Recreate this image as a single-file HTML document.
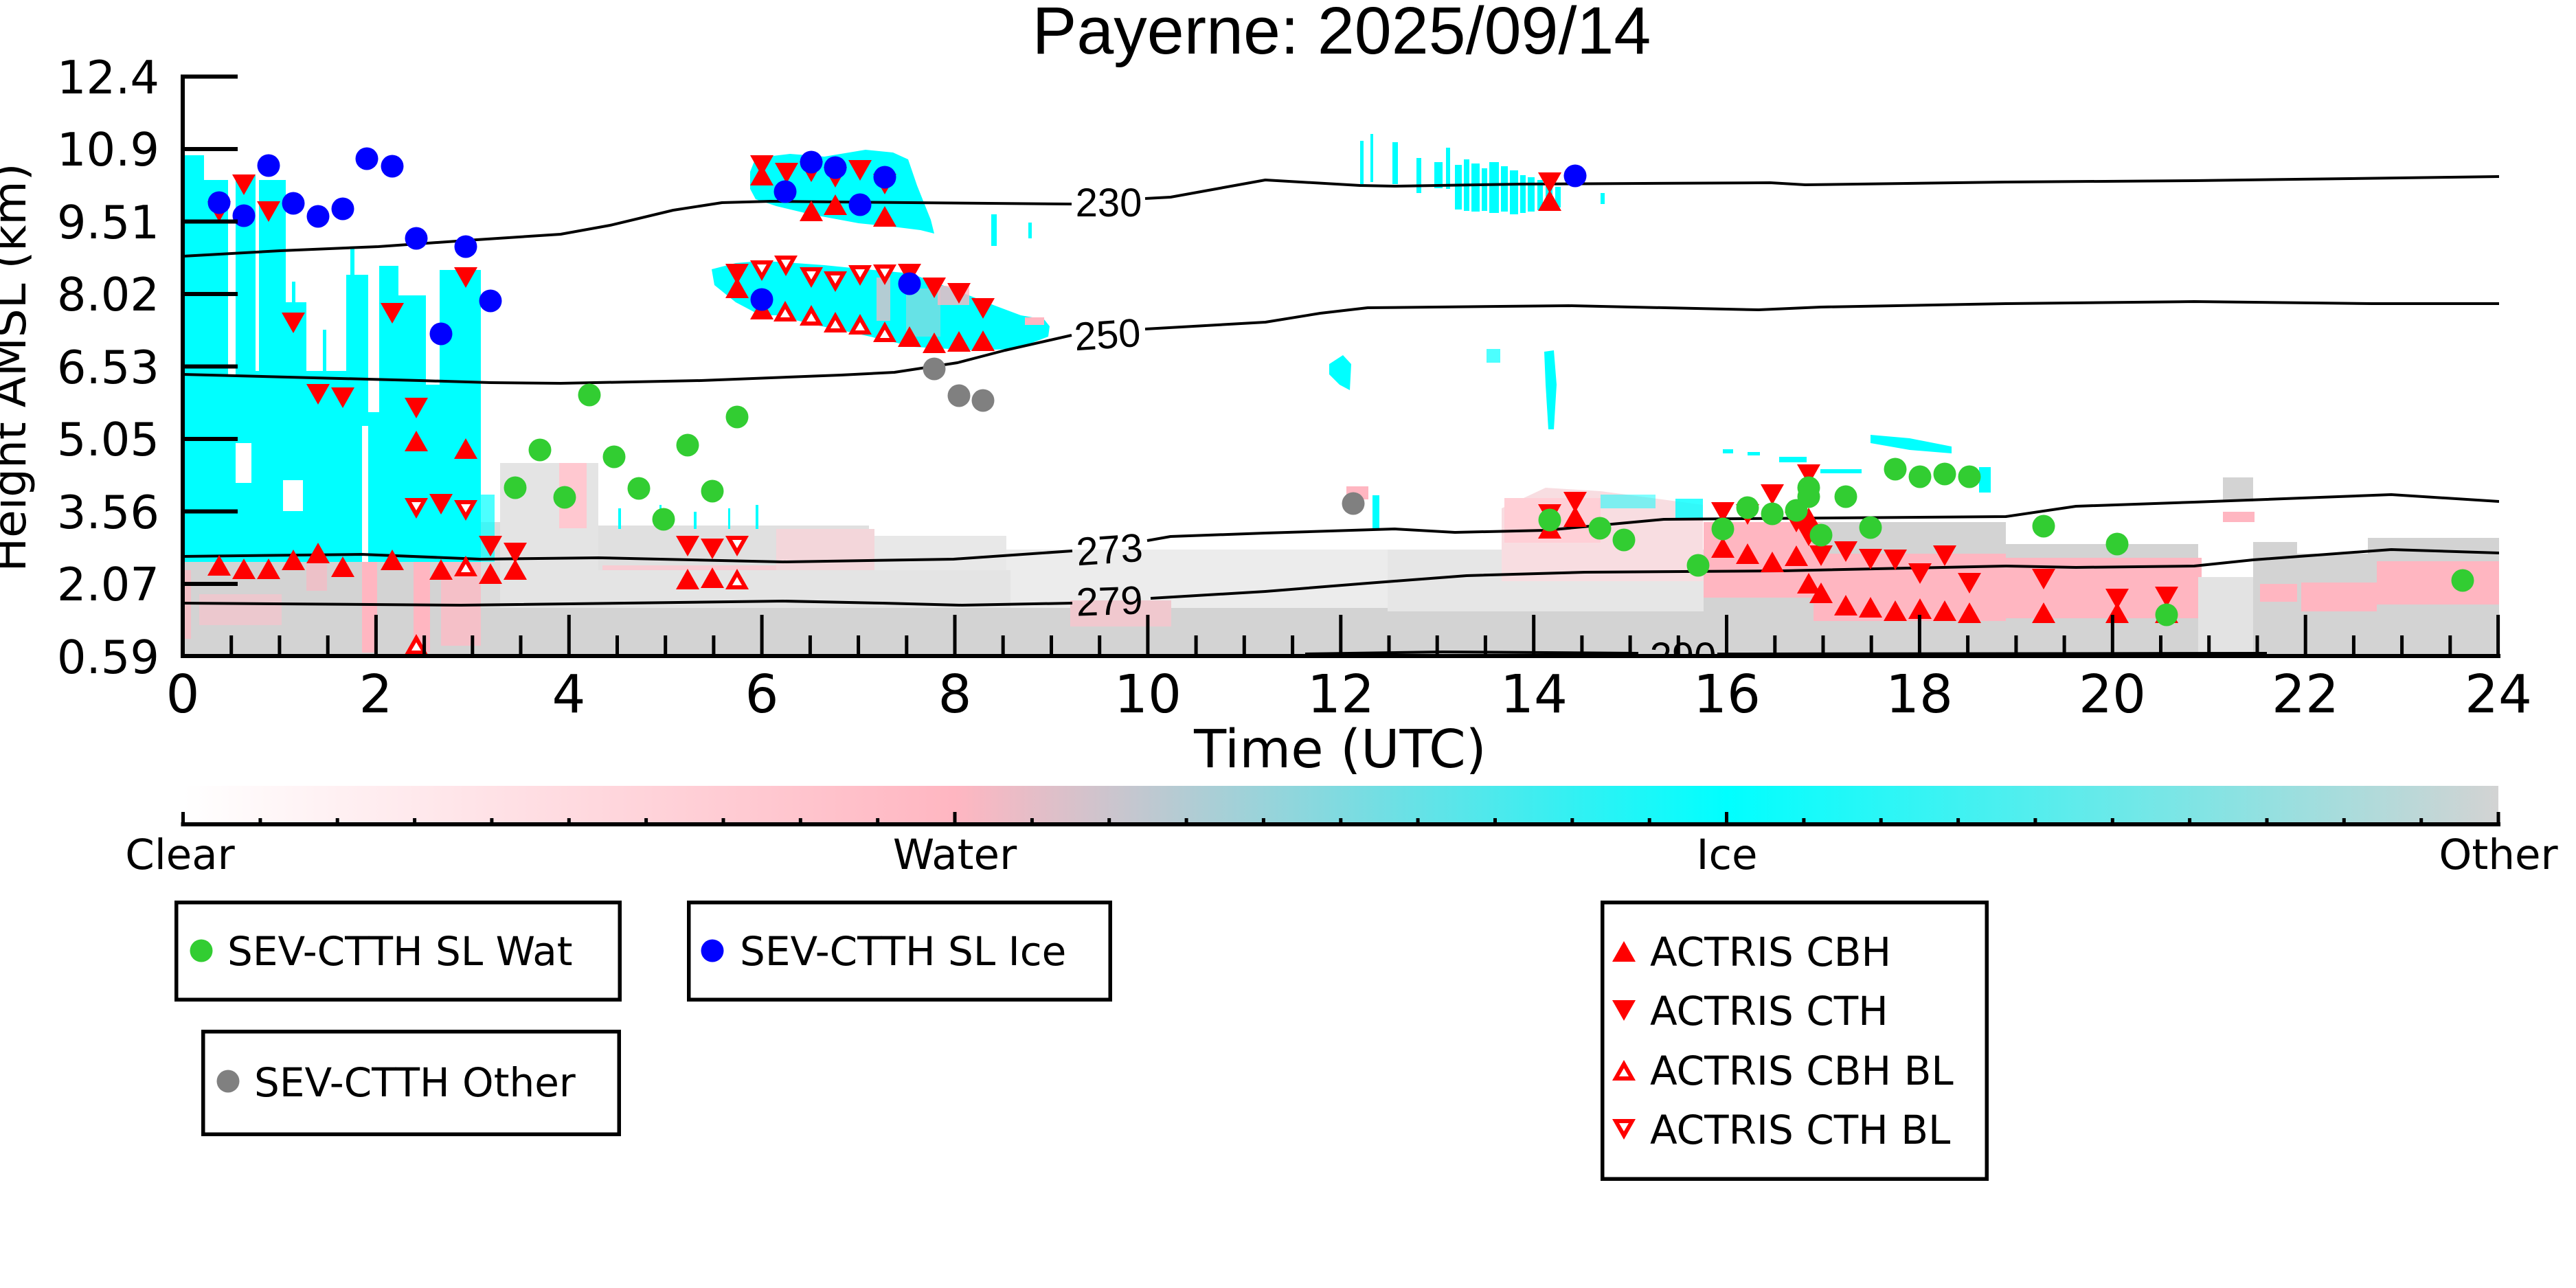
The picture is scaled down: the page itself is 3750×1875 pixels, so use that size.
<!DOCTYPE html>
<html><head><meta charset="utf-8"><style>
html,body{margin:0;padding:0;background:#fff;}
svg{display:block;}
.dj{font-family:"DejaVu Sans","Liberation Sans",sans-serif;}
.lb{font-family:"Liberation Sans","DejaVu Sans",sans-serif;}
</style></head><body>
<svg width="3750" height="1875" viewBox="0 0 3750 1875" xmlns="http://www.w3.org/2000/svg">
<defs>
<clipPath id="pc"><rect x="266" y="100" width="3372" height="855"/></clipPath>
<linearGradient id="cb" x1="0" x2="1" y1="0" y2="0">
<stop offset="0" stop-color="#ffffff"/><stop offset="0.3333" stop-color="#ffb6c1"/><stop offset="0.6667" stop-color="#00ffff"/><stop offset="1" stop-color="#d3d3d3"/>
</linearGradient>
<polygon id="up" points="0,-15 -17,15 17,15" fill="#ff0000"/>
<polygon id="dn" points="0,15 -17,-15 17,-15" fill="#ff0000"/>
<g id="upo"><polygon points="0,-15 -17,15 17,15" fill="#ff0000"/><polygon points="0,-3 -7,9 7,9" fill="#fff"/></g>
<g id="dno"><polygon points="0,15 -17,-15 17,-15" fill="#ff0000"/><polygon points="0,3 -7,-9 7,-9" fill="#fff"/></g>
<circle id="cg" r="16.5" fill="#32cd32"/>
<circle id="cbl" r="16.5" fill="#0000ff"/>
<circle id="cgr" r="16.5" fill="#808080"/>
</defs>

<!-- Title -->
<text class="lb" x="1953" y="78" font-size="97" text-anchor="middle">Payerne: 2025/09/14</text>

<g clip-path="url(#pc)">
<!-- bottom gray/pink band -->
<rect x="266" y="815" width="440" height="140" fill="#d3d3d3"/>
<rect x="268" y="830" width="10" height="100" fill="#ffb6c1" opacity="0.7"/>
<rect x="290" y="865" width="120" height="45" fill="#f2c6cd" opacity="0.8"/>
<rect x="446" y="800" width="30" height="60" fill="#ffb6c1" opacity="0.6"/>
<rect x="527" y="777" width="22" height="173" fill="#ffb6c1"/>
<rect x="602" y="789" width="24" height="160" fill="#ffb6c1"/>
<rect x="642" y="800" width="60" height="140" fill="#f5c0c8"/>
<rect x="700" y="760" width="30" height="195" fill="#dcdcdc"/>
<rect x="728" y="674" width="143" height="281" fill="#e4e4e4"/>
<rect x="814" y="674" width="40" height="95" fill="#ffc8d0"/>
<rect x="871" y="765" width="394" height="65" fill="#e0e0e0"/>
<rect x="877" y="823" width="388" height="20" fill="#f8ccd3"/>
<rect x="1265" y="780" width="200" height="100" fill="#e8e8e8"/>
<rect x="1130" y="770" width="143" height="76" fill="#f3d6da"/>
<rect x="1465" y="800" width="565" height="85" fill="#ececec"/>
<rect x="1300" y="835" width="150" height="50" fill="#e2e2e2"/>
<rect x="700" y="885" width="2938" height="70" fill="#d3d3d3"/>
<rect x="871" y="830" width="600" height="55" fill="#e4e4e4"/>
<rect x="1558" y="874" width="147" height="38" fill="#f0c8ce"/>
<rect x="2020" y="800" width="460" height="90" fill="#e6e6e6"/>
<polygon points="2186,740 2250,710 2330,715 2479,735 2479,846 2186,846" fill="#f8dde1"/>
<rect x="2190" y="725" width="140" height="65" fill="#ffcfd6"/>
<rect x="2480" y="760" width="440" height="195" fill="#d3d3d3"/>
<rect x="2480" y="760" width="170" height="110" fill="#ffb6c1"/>
<rect x="2640" y="806" width="280" height="98" fill="#ffb6c1"/>
<rect x="2920" y="792" width="280" height="163" fill="#d3d3d3"/>
<rect x="2920" y="812" width="285" height="88" fill="#ffb6c1"/>
<rect x="3200" y="840" width="90" height="115" fill="#e3e3e3"/>
<rect x="3280" y="789" width="64" height="166" fill="#d3d3d3"/>
<rect x="3344" y="806" width="103" height="149" fill="#d3d3d3"/>
<rect x="3447" y="783" width="191" height="172" fill="#d3d3d3"/>
<rect x="3290" y="850" width="54" height="26" fill="#ffb6c1"/>
<rect x="3350" y="848" width="110" height="42" fill="#ffb6c1"/>
<rect x="3460" y="817" width="178" height="63" fill="#ffb6c1"/>
<rect x="3236" y="695" width="44" height="35" fill="#d3d3d3"/>
<rect x="3236" y="745" width="46" height="15" fill="#ffb6c1"/>
<rect x="1960" y="708" width="32" height="19" fill="#ffb6c1"/>

<!-- left cyan mass -->
<polygon fill="#00ffff" points="268,818 268,226 297,226 297,262 332,262 332,330 343,330 343,255 372,255 372,300 377,300 377,262 416,262 416,440 446,440 446,540 504,540 504,400 536,400 536,600 552,600 552,387 580,387 580,430 620,430 620,560 640,560 640,393 700,393 700,818"/>
<rect x="332" y="330" width="11" height="215" fill="#fff"/>
<rect x="372" y="300" width="5" height="240" fill="#fff"/>
<rect x="527" y="620" width="9" height="198" fill="#fff"/>
<rect x="343" y="645" width="23" height="58" fill="#fff"/>
<rect x="412" y="699" width="29" height="45" fill="#fff"/>
<rect x="510" y="360" width="6" height="40" fill="#00ffff"/>
<rect x="425" y="410" width="5" height="30" fill="#00ffff"/>
<rect x="470" y="480" width="5" height="60" fill="#00ffff"/>
<rect x="700" y="720" width="20" height="98" fill="#00ffff" opacity="0.7"/>

<!-- top cluster 6-7.5h -->
<polygon fill="#00ffff" points="1092,250 1100,230 1150,224 1200,228 1260,218 1300,222 1322,232 1335,270 1355,320 1360,340 1340,335 1300,330 1250,325 1180,312 1130,300 1100,290 1092,275"/>
<rect x="1443" y="312" width="8" height="46" fill="#00ffff"/>
<rect x="1497" y="324" width="5" height="23" fill="#00ffff"/>
<!-- middle cluster 6-9h -->
<polygon fill="#00ffff" points="1036,392 1071,383 1107,380 1130,381 1200,386 1260,392 1325,398 1388,421 1446,444 1486,459 1520,465 1528,475 1526,490 1500,500 1474,508 1417,510 1331,505 1245,485 1187,473 1130,459 1107,459 1071,440 1040,415"/>
<rect x="1276" y="404" width="20" height="63" fill="#ffb6c1" opacity="0.7"/>
<rect x="1319" y="420" width="50" height="70" fill="#ffb6c1" opacity="0.4"/>
<rect x="1365" y="416" width="46" height="28" fill="#ffb6c1" opacity="0.8"/>
<rect x="1492" y="462" width="28" height="11" fill="#ffb6c1"/>

<!-- upper right cluster (streaky) -->
<g fill="#00ffff">
<rect x="1980" y="205" width="5" height="63"/>
<rect x="1995" y="195" width="4" height="70"/>
<rect x="2027" y="207" width="8" height="61"/>
<rect x="2062" y="230" width="7" height="51"/>
<rect x="2088" y="236" width="12" height="38"/>
<rect x="2105" y="215" width="6" height="60"/>
<rect x="2118" y="240" width="10" height="65"/>
<rect x="2131" y="232" width="8" height="75"/>
<rect x="2142" y="238" width="12" height="70"/>
<rect x="2157" y="245" width="8" height="62"/>
<rect x="2168" y="236" width="14" height="74"/>
<rect x="2185" y="242" width="10" height="66"/>
<rect x="2198" y="248" width="12" height="64"/>
<rect x="2213" y="255" width="8" height="55"/>
<rect x="2224" y="258" width="10" height="50"/>
<rect x="2238" y="262" width="8" height="44"/>
<rect x="2250" y="266" width="10" height="40"/>
<rect x="2264" y="272" width="8" height="30"/>
<rect x="2330" y="281" width="6" height="16"/>
</g>
<polygon fill="#00ffff" points="1935,530 1955,517 1967,530 1965,568 1950,560 1935,545"/>
<polygon fill="#00ffff" points="2248,512 2262,510 2266,560 2262,625 2254,625 2250,560"/>
<rect x="2164" y="508" width="20" height="20" fill="#00ffff" opacity="0.7"/>
<polygon fill="#00ffff" points="2723,633 2780,638 2841,650 2841,660 2780,655 2723,645"/>
<rect x="2508" y="654" width="15" height="6" fill="#00ffff"/>
<rect x="2544" y="658" width="18" height="5" fill="#00ffff"/>
<rect x="2590" y="665" width="40" height="8" fill="#00ffff"/>
<rect x="2650" y="683" width="60" height="6" fill="#00ffff"/>
<rect x="2881" y="680" width="17" height="37" fill="#00ffff"/>
<rect x="2439" y="726" width="40" height="28" fill="#00ffff" opacity="0.8"/>
<rect x="2330" y="720" width="80" height="20" fill="#00ffff" opacity="0.5"/>
<rect x="1998" y="721" width="10" height="50" fill="#00ffff"/>
<rect x="900" y="740" width="4" height="30" fill="#00ffff"/>
<rect x="960" y="735" width="3" height="35" fill="#00ffff"/>
<rect x="1010" y="745" width="4" height="25" fill="#00ffff"/>
<rect x="1060" y="740" width="3" height="30" fill="#00ffff"/>
<rect x="1100" y="735" width="4" height="35" fill="#00ffff"/>

<!-- contour lines -->
<g fill="none" stroke="#000" stroke-width="4" stroke-linejoin="round">
<polyline points="266,373 408,365 551,359 694,349 816,341 888,328 980,306 1051,295 1122,293 1327,295 1560,297"/>
<polyline points="1667,289 1704,287 1842,262 1980,270 2030,271 2215,268 2577,266 2628,269 2920,265 3194,263 3567,258 3638,257"/>
<polyline points="266,545 612,554 714,557 816,558 1020,554 1224,546 1302,542 1394,528 1463,510 1560,488"/>
<polyline points="1667,479 1842,469 1922,456 1991,448 2284,445 2560,451 2651,447 2920,442 3194,439 3453,442 3638,442"/>
<polyline points="266,810 527,807 699,814 871,812 1140,818 1388,814 1561,802"/>
<polyline points="1670,787 1704,781 1842,776 2030,770 2118,775 2250,772 2422,756 2920,752 3022,737 3194,731 3481,720 3638,730"/>
<polyline points="266,878 671,881 1140,875 1285,878 1400,881 1561,878"/>
<polyline points="1675,871 1842,861 1991,849 2030,846 2135,838 2307,833 2594,831 2920,824 3022,826 3194,824 3280,815 3481,800 3638,805"/>
<polyline points="1900,952 2100,949 2385,951"/>
<polyline points="2500,952 3300,951"/>
</g>
<g class="lb" font-size="58" text-anchor="middle">
<text x="1614" y="315">230</text>
<text x="1612" y="507" transform="rotate(-4 1612 486)">250</text>
<text x="1615" y="820" transform="rotate(-4 1615 798)">273</text>
<text x="1615" y="895" transform="rotate(-2 1615 874)">279</text>
<text x="2450" y="976">290</text>
</g>

<!-- ACTRIS markers -->
<g>
<use href="#dn" x="319" y="308"/><use href="#dn" x="355" y="269"/><use href="#dn" x="391" y="308"/><use href="#dn" x="427" y="470"/>
<use href="#dn" x="463" y="574"/><use href="#dn" x="499" y="579"/><use href="#dn" x="571" y="456"/><use href="#dn" x="606" y="594"/>
<use href="#dn" x="642" y="734"/><use href="#dn" x="678" y="404"/><use href="#dn" x="714" y="795"/><use href="#dn" x="750" y="805"/>
<use href="#dn" x="1001" y="795"/><use href="#dn" x="1037" y="799"/><use href="#dn" x="1073" y="399"/><use href="#dn" x="1109" y="241"/>
<use href="#dn" x="1145" y="252"/><use href="#dn" x="1181" y="250"/><use href="#dn" x="1216" y="258"/><use href="#dn" x="1252" y="248"/>
<use href="#dn" x="1288" y="268"/><use href="#dn" x="1324" y="399"/><use href="#dn" x="1360" y="419"/><use href="#dn" x="1396" y="427"/>
<use href="#dn" x="1431" y="449"/><use href="#dn" x="2256" y="266"/><use href="#dn" x="2256" y="749"/><use href="#dn" x="2293" y="731"/>
<use href="#dn" x="2508" y="746"/><use href="#dn" x="2544" y="749"/><use href="#dn" x="2580" y="720"/><use href="#dn" x="2615" y="760"/>
<use href="#dn" x="2633" y="691"/><use href="#dn" x="2633" y="780"/><use href="#dn" x="2651" y="809"/><use href="#dn" x="2687" y="803"/>
<use href="#dn" x="2723" y="814"/><use href="#dn" x="2759" y="815"/><use href="#dn" x="2795" y="835"/><use href="#dn" x="2831" y="809"/>
<use href="#dn" x="2867" y="849"/><use href="#dn" x="2975" y="843"/><use href="#dn" x="3082" y="872"/><use href="#dn" x="3154" y="869"/>

<use href="#up" x="319" y="823"/><use href="#up" x="355" y="828"/><use href="#up" x="391" y="828"/><use href="#up" x="427" y="815"/>
<use href="#up" x="463" y="805"/><use href="#up" x="499" y="825"/><use href="#up" x="571" y="815"/><use href="#up" x="606" y="642"/>
<use href="#up" x="642" y="829"/><use href="#up" x="678" y="653"/><use href="#up" x="714" y="835"/><use href="#up" x="750" y="829"/>
<use href="#up" x="1001" y="843"/><use href="#up" x="1037" y="841"/><use href="#up" x="1073" y="419"/><use href="#up" x="1109" y="255"/>
<use href="#up" x="1109" y="450"/><use href="#up" x="1181" y="307"/><use href="#up" x="1216" y="298"/><use href="#up" x="1288" y="315"/>
<use href="#up" x="1324" y="490"/><use href="#up" x="1360" y="499"/><use href="#up" x="1396" y="497"/><use href="#up" x="1431" y="496"/>
<use href="#up" x="2256" y="292"/><use href="#up" x="2256" y="769"/><use href="#up" x="2293" y="752"/><use href="#up" x="2508" y="797"/>
<use href="#up" x="2544" y="806"/><use href="#up" x="2580" y="818"/><use href="#up" x="2615" y="809"/><use href="#up" x="2633" y="754"/>
<use href="#up" x="2633" y="849"/><use href="#up" x="2651" y="863"/><use href="#up" x="2687" y="881"/><use href="#up" x="2723" y="884"/>
<use href="#up" x="2759" y="889"/><use href="#up" x="2795" y="886"/><use href="#up" x="2831" y="889"/><use href="#up" x="2867" y="892"/>
<use href="#up" x="2975" y="892"/><use href="#up" x="3082" y="892"/><use href="#up" x="3154" y="892"/>

<use href="#upo" x="606" y="938"/><use href="#upo" x="678" y="824"/><use href="#upo" x="1073" y="843"/><use href="#upo" x="1143" y="453"/>
<use href="#upo" x="1181" y="459"/><use href="#upo" x="1216" y="469"/><use href="#upo" x="1252" y="472"/><use href="#upo" x="1288" y="483"/>

<use href="#dno" x="606" y="740"/><use href="#dno" x="678" y="743"/><use href="#dno" x="1073" y="795"/><use href="#dno" x="1109" y="394"/>
<use href="#dno" x="1144" y="387"/><use href="#dno" x="1181" y="404"/><use href="#dno" x="1216" y="410"/><use href="#dno" x="1252" y="401"/>
<use href="#dno" x="1288" y="400"/>
</g>

<!-- SEV circles -->
<g>
<use href="#cbl" x="319" y="295"/><use href="#cbl" x="355" y="314"/><use href="#cbl" x="391" y="241"/><use href="#cbl" x="427" y="296"/>
<use href="#cbl" x="463" y="315"/><use href="#cbl" x="499" y="304"/><use href="#cbl" x="534" y="231"/><use href="#cbl" x="571" y="242"/>
<use href="#cbl" x="606" y="347"/><use href="#cbl" x="678" y="359"/><use href="#cbl" x="714" y="438"/><use href="#cbl" x="642" y="486"/>
<use href="#cbl" x="1109" y="436"/><use href="#cbl" x="1143" y="279"/><use href="#cbl" x="1181" y="236"/><use href="#cbl" x="1216" y="244"/>
<use href="#cbl" x="1252" y="298"/><use href="#cbl" x="1288" y="258"/><use href="#cbl" x="1324" y="413"/><use href="#cbl" x="2293" y="256"/>

<use href="#cg" x="750" y="710"/><use href="#cg" x="786" y="655"/><use href="#cg" x="822" y="724"/><use href="#cg" x="858" y="575"/>
<use href="#cg" x="894" y="665"/><use href="#cg" x="930" y="711"/><use href="#cg" x="966" y="756"/><use href="#cg" x="1001" y="648"/>
<use href="#cg" x="1037" y="715"/><use href="#cg" x="1073" y="607"/>
<use href="#cg" x="2256" y="757"/><use href="#cg" x="2329" y="769"/><use href="#cg" x="2364" y="786"/><use href="#cg" x="2472" y="823"/>
<use href="#cg" x="2508" y="770"/><use href="#cg" x="2544" y="739"/><use href="#cg" x="2580" y="748"/><use href="#cg" x="2615" y="743"/>
<use href="#cg" x="2633" y="710"/><use href="#cg" x="2633" y="723"/><use href="#cg" x="2651" y="779"/><use href="#cg" x="2687" y="723"/>
<use href="#cg" x="2723" y="768"/><use href="#cg" x="2759" y="683"/><use href="#cg" x="2795" y="694"/><use href="#cg" x="2831" y="690"/>
<use href="#cg" x="2867" y="694"/><use href="#cg" x="2975" y="766"/><use href="#cg" x="3082" y="792"/><use href="#cg" x="3154" y="895"/>
<use href="#cg" x="3585" y="845"/>

<use href="#cgr" x="1360" y="537"/><use href="#cgr" x="1396" y="576"/><use href="#cgr" x="1431" y="583"/><use href="#cgr" x="1970" y="733"/>
</g>
</g>

<!-- axes -->
<g stroke="#000" stroke-width="6">
<line x1="266" y1="108.5" x2="266" y2="958"/>
<line x1="263" y1="955" x2="3640" y2="955"/>
<line x1="266" y1="111.5" x2="346" y2="111.5"/>
<line x1="266" y1="217" x2="346" y2="217"/>
<line x1="266" y1="322.5" x2="346" y2="322.5"/>
<line x1="266" y1="428" x2="346" y2="428"/>
<line x1="266" y1="533.5" x2="346" y2="533.5"/>
<line x1="266" y1="639" x2="346" y2="639"/>
<line x1="266" y1="744.5" x2="346" y2="744.5"/>
<line x1="266" y1="850" x2="346" y2="850"/>
</g>
<path stroke="#000" stroke-width="5" fill="none" d="
M547.4 955V895 M828.3 955V895 M1109.1 955V895 M1390 955V895 M1670.9 955V895 M1951.8 955V895 M2232.7 955V895 M2513.5 955V895 M2794.4 955V895 M3075.3 955V895 M3356.2 955V895 M3636.6 955V895
M336.7 955V925 M406.9 955V925 M477.2 955V925 M617.6 955V925 M687.8 955V925 M758 955V925 M898.5 955V925 M968.7 955V925 M1038.9 955V925
M1179.4 955V925 M1249.6 955V925 M1319.8 955V925 M1460.2 955V925 M1530.5 955V925 M1600.7 955V925 M1741.1 955V925 M1811.3 955V925 M1881.6 955V925
M2022 955V925 M2092.2 955V925 M2162.4 955V925 M2302.9 955V925 M2373.1 955V925 M2443.3 955V925 M2583.8 955V925 M2654 955V925 M2724.2 955V925
M2864.6 955V925 M2934.9 955V925 M3005.1 955V925 M3145.5 955V925 M3215.7 955V925 M3286 955V925 M3426.4 955V925 M3496.6 955V925 M3566.8 955V925"/>

<!-- y tick labels -->
<g class="dj" font-size="67" text-anchor="end">
<text x="232" y="136">12.4</text>
<text x="232" y="241">10.9</text>
<text x="232" y="347">9.51</text>
<text x="232" y="452">8.02</text>
<text x="232" y="558">6.53</text>
<text x="232" y="663">5.05</text>
<text x="232" y="769">3.56</text>
<text x="232" y="874">2.07</text>
<text x="232" y="980">0.59</text>
</g>
<text class="dj" font-size="66" text-anchor="middle" transform="translate(37,535) rotate(-90)">Height AMSL (km)</text>

<!-- x tick labels -->
<g class="dj" font-size="77" text-anchor="middle">
<text x="266" y="1037">0</text>
<text x="547" y="1037">2</text>
<text x="828" y="1037">4</text>
<text x="1109" y="1037">6</text>
<text x="1390" y="1037">8</text>
<text x="1671" y="1037">10</text>
<text x="1952" y="1037">12</text>
<text x="2233" y="1037">14</text>
<text x="2514" y="1037">16</text>
<text x="2794" y="1037">18</text>
<text x="3075" y="1037">20</text>
<text x="3356" y="1037">22</text>
<text x="3637" y="1037">24</text>
</g>
<text class="dj" font-size="77" x="1951" y="1117" text-anchor="middle">Time (UTC)</text>

<!-- colorbar -->
<rect x="266.5" y="1144" width="3370.5" height="54" fill="url(#cb)"/>
<line x1="263.5" y1="1200" x2="3640" y2="1200" stroke="#000" stroke-width="6"/>
<path stroke="#000" stroke-width="5" fill="none" d="
M266.5 1200V1182 M1390 1200V1182 M2513.5 1200V1182 M3637 1200V1182
M378.9 1200V1191 M491.2 1200V1191 M603.6 1200V1191 M715.9 1200V1191 M828.3 1200V1191 M940.6 1200V1191 M1053 1200V1191 M1165.3 1200V1191 M1277.7 1200V1191
M1502.4 1200V1191 M1614.7 1200V1191 M1727.1 1200V1191 M1839.4 1200V1191 M1951.8 1200V1191 M2064.1 1200V1191 M2176.5 1200V1191 M2288.8 1200V1191 M2401.2 1200V1191
M2625.9 1200V1191 M2738.2 1200V1191 M2850.6 1200V1191 M2962.9 1200V1191 M3075.3 1200V1191 M3187.6 1200V1191 M3300 1200V1191 M3412.3 1200V1191 M3524.7 1200V1191"/>
<g class="dj" font-size="61" text-anchor="middle">
<text x="262" y="1265">Clear</text>
<text x="1390" y="1265">Water</text>
<text x="2514" y="1265">Ice</text>
<text x="3637" y="1265">Other</text>
</g>

<!-- legends -->
<g fill="#fff" stroke="#000" stroke-width="5.5">
<rect x="256.75" y="1313.75" width="645.5" height="141.5"/>
<rect x="1002.75" y="1313.75" width="613.5" height="141.5"/>
<rect x="295.75" y="1501.75" width="605.5" height="149.5"/>
<rect x="2332.75" y="1313.75" width="559.5" height="402.5"/>
</g>
<use href="#cg" x="293" y="1384"/>
<use href="#cbl" x="1037" y="1384"/>
<use href="#cgr" x="332" y="1574"/>
<use href="#up" x="2364" y="1385"/>
<use href="#dn" x="2364" y="1471"/>
<use href="#upo" x="2364" y="1558"/>
<use href="#dno" x="2364" y="1644"/>
<g class="dj" font-size="58">
<text x="331" y="1405">SEV-CTTH SL Wat</text>
<text x="1077" y="1405">SEV-CTTH SL Ice</text>
<text x="370" y="1596">SEV-CTTH Other</text>
<text x="2402" y="1406">ACTRIS CBH</text>
<text x="2402" y="1492">ACTRIS CTH</text>
<text x="2402" y="1579">ACTRIS CBH BL</text>
<text x="2402" y="1665">ACTRIS CTH BL</text>
</g>
</svg>
</body></html>
